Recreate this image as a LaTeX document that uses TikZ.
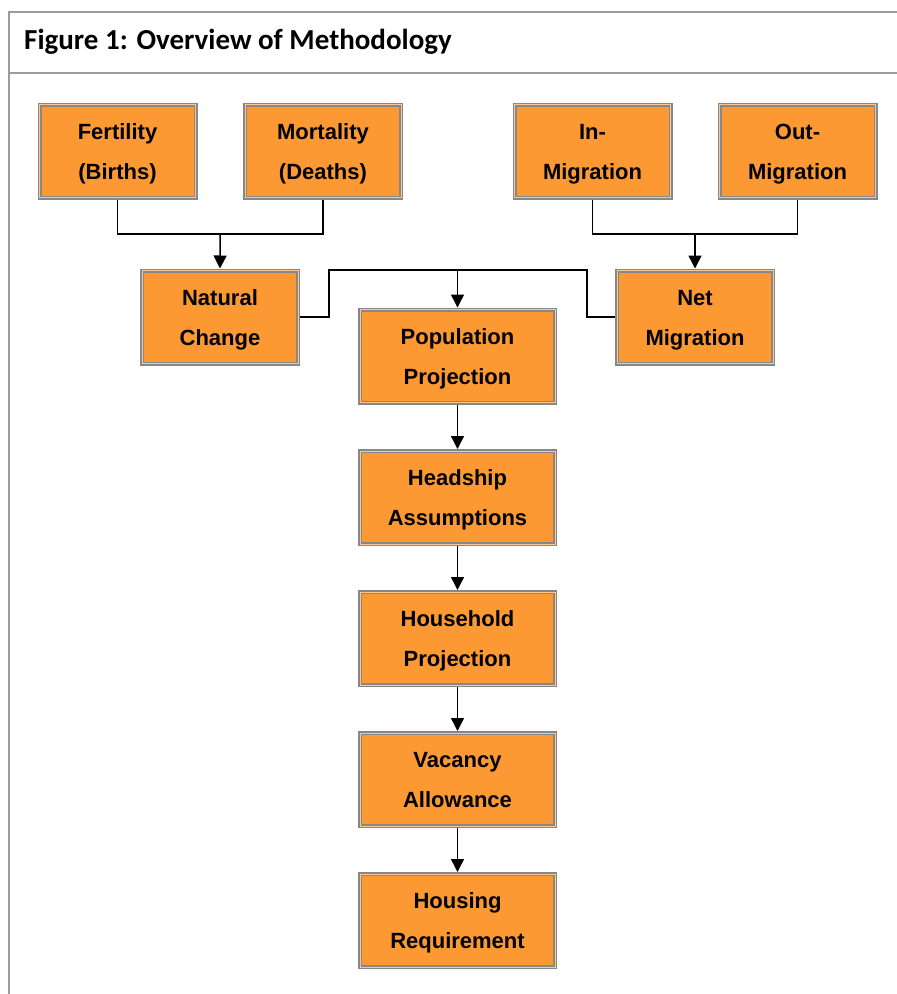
\documentclass[tikz,border=0pt]{standalone}
\usepackage{fontspec}
\setmainfont{Liberation Sans}
\newfontfamily\titlefont{Carlito}
\usetikzlibrary{arrows.meta}
\definecolor{boxor}{RGB}{252,153,51}
\definecolor{boxgray}{RGB}{135,135,135}
\definecolor{lightor}{RGB}{250,200,150}
\definecolor{framegray}{RGB}{155,155,155}
\newcommand{\twolines}[2]{\rule{0pt}{21pt}#1\\#2\rule[-5pt]{0pt}{5pt}}
\tikzset{
  box/.style={draw=boxgray, fill=boxor, line width=1.5pt, double=lightor, double distance=1pt,
    minimum width=156pt, minimum height=93pt, inner sep=0pt, outer sep=2pt, align=center,
    font=\fontsize{22}{40}\selectfont\bfseries},
  widebox/.style={box, minimum width=195pt},
  conn/.style={line width=1.5pt, black},
  arr/.style={conn, -{Triangle[width=13pt,length=13pt]}},
  frame/.style={draw=framegray, line width=2pt}
}
\begin{document}
\begin{tikzpicture}[x=1pt,y=-1pt]
\useasboundingbox (0,0) rectangle (897,994);
% frame
\draw[frame] (9,996) -- (9,12) -- (899,12);
\draw[frame] (9,73) -- (899,73);
\node[anchor=base west, inner sep=0pt, font=\titlefont\fontsize{29}{34}\selectfont\bfseries] (title) at (24,49) {Figure 1: Overview of Methodology};
% boxes
\node[box] (fert) at (117.5,151) {\twolines{Fertility}{(Births)}};
\node[box] (mort) at (323,151) {\twolines{Mortality}{(Deaths)}};
\node[box] (inm) at (592.5,151) {\twolines{In-}{Migration}};
\node[box] (outm) at (797.5,151) {\twolines{Out-}{Migration}};
\node[box] (nat) at (220,317) {\twolines{Natural}{Change}};
\node[box] (net) at (695,317) {\twolines{Net}{Migration}};
\node[widebox] (pop) at (457.5,356) {\twolines{Population}{Projection}};
\node[widebox] (head) at (457.5,497.5) {\twolines{Headship}{Assumptions}};
\node[widebox] (hh) at (457.5,638.5) {\twolines{Household}{Projection}};
\node[widebox] (vac) at (457.5,779.5) {\twolines{Vacancy}{Allowance}};
\node[widebox] (hous) at (457.5,920.5) {\twolines{Housing}{Requirement}};
% junctions
\coordinate (j1) at (220.25,234);
\coordinate (j2) at (695,234);
\coordinate (c1) at (329,270);
\coordinate (c2) at (587,270);
\coordinate (j3) at (457.5,270);
% connectors
\draw[conn] (fert.south) |- (j1) -| (mort.south);
\draw[arr] (j1) -- (nat.north);
\draw[conn] (inm.south) |- (j2) -| (outm.south);
\draw[arr] (j2) -- (net.north);
\draw[conn] (nat.east) -| (c1) -- (c2) |- (net.west);
\draw[arr] (j3) -- (pop.north);
\draw[arr] (pop.south) -- (head.north);
\draw[arr] (head.south) -- (hh.north);
\draw[arr] (hh.south) -- (vac.north);
\draw[arr] (vac.south) -- (hous.north);
\end{tikzpicture}
\end{document}
